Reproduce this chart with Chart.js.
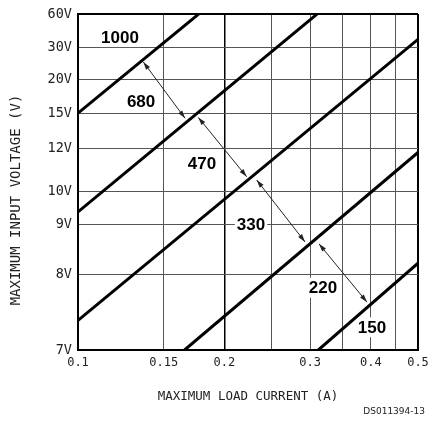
<!DOCTYPE html>
<html><head><meta charset="utf-8">
<script src="https://cdn.jsdelivr.net/npm/chart.js@4.4.1/dist/chart.umd.min.js"></script>
<style>html,body{margin:0;padding:0;background:#fff}#wrap{width:428px;height:423px;position:relative}</style>
</head><body><div id="wrap"><canvas id="c"></canvas></div>
<script>
// ---- data ----
const xTicks = [0.1, 0.15, 0.2, 0.25, 0.3, 0.35, 0.4, 0.45, 0.5];
const xTickLabels = ['0.1', '0.15', '0.2', '', '0.3', '', '0.4', '', '0.5'];
const yTicks = [7, 8, 9, 10, 12, 15, 20, 30, 60];
const yTickLabels = ['7V', '8V', '9V', '10V', '12V', '15V', '20V', '30V', '60V'];

const inductances = ['1000', '680', '470', '330', '220', '150'];
const labelCurrent = [0.122, 0.1348, 0.1798, 0.2268, 0.3189, 0.4022];
const labelVoltage = [39.5, 16.8, 11.3, 9.0, 7.82, 7.30];

const boundaryCurrent = [[0.1, 0.177], [0.1, 0.31], [0.1, 0.5], [0.1656, 0.5], [0.312, 0.5]];
const boundaryVoltage = [[15, 60], [9.38, 60], [7.39, 37.4], [7, 11.8], [7, 8.22]];

const arrowCurrent = [[0.1362, 0.1660], [0.1767, 0.2222], [0.2330, 0.2929], [0.3129, 0.3928]];
const arrowVoltage = [[25.6, 14.56], [14.64, 10.68], [10.53, 8.65], [8.61, 7.63]];

// ---- non-uniform input-voltage axis (as printed on the datasheet) ----
class InputVoltageScale extends Chart.LinearScale {
  static id = 'inputVoltage';
  static stops = [7, 8, 9, 10, 12, 15, 20, 30, 60];
  static stopFractions = [0, 0.226, 0.3735, 0.472, 0.601, 0.705, 0.804, 0.9, 1];
  toDecimal(v) {
    const s = InputVoltageScale.stops, f = InputVoltageScale.stopFractions;
    if (v <= s[0]) return f[0];
    for (let i = 0; i < s.length - 1; i++) {
      if (v <= s[i + 1]) return f[i] + (v - s[i]) / (s[i + 1] - s[i]) * (f[i + 1] - f[i]);
    }
    return 1;
  }
  fromDecimal(d) {
    const s = InputVoltageScale.stops, f = InputVoltageScale.stopFractions;
    if (d <= 0) return s[0];
    for (let i = 0; i < f.length - 1; i++) {
      if (d <= f[i + 1]) return s[i] + (d - f[i]) / (f[i + 1] - f[i]) * (s[i + 1] - s[i]);
    }
    return s[s.length - 1];
  }
  getPixelForValue(v) { return this.getPixelForDecimal(this.toDecimal(v)); }
  getValueForPixel(p) { return this.fromDecimal(this.getDecimalForPixel(p)); }
}
Chart.register(InputVoltageScale);

const datasets = [];
boundaryCurrent.forEach((xs, i) => {
  datasets.push({
    data: xs.map((xv, j) => ({ x: xv, y: boundaryVoltage[i][j] })),
    showLine: true, borderColor: '#000', borderWidth: 3, pointRadius: 0, tension: 0
  });
});
arrowCurrent.forEach((xs, i) => {
  datasets.push({
    data: xs.map((xv, j) => ({ x: xv, y: arrowVoltage[i][j] })),
    showLine: true, borderColor: '#222', borderWidth: 1, pointRadius: 0, tension: 0, isArrow: true
  });
});

const mono = '"DejaVu Sans Mono", monospace';
const lastIdx = (c) => c.scale.ticks.length - 1;

const decor = {
  id: 'decor',
  beforeDatasetsDraw(chart) {
    const { ctx, scales: { x, y } } = chart;
    ctx.save();
    ctx.font = 'bold 17px "Liberation Sans", Arial, sans-serif';
    ctx.textAlign = 'center';
    ctx.textBaseline = 'middle';
    inductances.forEach((t, i) => {
      const px = x.getPixelForValue(labelCurrent[i]);
      const py = y.getPixelForValue(labelVoltage[i]);
      const w = ctx.measureText(t).width;
      ctx.fillStyle = '#fff';
      ctx.fillRect(px - w / 2 - 2, py - 10, w + 4, 20);
      ctx.fillStyle = '#000';
      ctx.fillText(t, px, py + 1);
    });
    ctx.restore();
  },
  afterDatasetsDraw(chart) {
    const ctx = chart.ctx;
    ctx.save();
    ctx.fillStyle = '#222';
    chart.data.datasets.forEach((ds, i) => {
      if (!ds.isArrow) return;
      const pts = chart.getDatasetMeta(i).data;
      const a = pts[0], b = pts[1];
      const head = (tip, from) => {
        const ang = Math.atan2(tip.y - from.y, tip.x - from.x);
        const L = 8, W = 2.4;
        ctx.beginPath();
        ctx.moveTo(tip.x, tip.y);
        ctx.lineTo(tip.x - L * Math.cos(ang) + W * Math.sin(ang), tip.y - L * Math.sin(ang) - W * Math.cos(ang));
        ctx.lineTo(tip.x - L * Math.cos(ang) - W * Math.sin(ang), tip.y - L * Math.sin(ang) + W * Math.cos(ang));
        ctx.closePath();
        ctx.fill();
      };
      head(a, b);
      head(b, a);
    });
    ctx.restore();
  },
  afterDraw(chart) {
    const ctx = chart.ctx;
    ctx.save();
    ctx.fillStyle = '#222';
    ctx.textAlign = 'center';
    ctx.textBaseline = 'middle';
    ctx.font = '12.5px ' + mono;
    ctx.fillText('MAXIMUM LOAD CURRENT (A)', 248, 397);
    ctx.save();
    ctx.translate(16, 200);
    ctx.rotate(-Math.PI / 2);
    ctx.font = '14px ' + mono;
    ctx.fillText('MAXIMUM INPUT VOLTAGE (V)', 0, 0);
    ctx.restore();
    ctx.textAlign = 'right';
    ctx.font = '9px "DejaVu Sans", sans-serif';
    ctx.fillText('DS011394-13', 425, 412);
    ctx.restore();
  }
};

new Chart(document.getElementById('c'), {
  type: 'scatter',
  data: { datasets },
  options: {
    responsive: true,
    maintainAspectRatio: false,
    animation: false,
    events: [],
    layout: { padding: { left: 0, top: 14, right: 10, bottom: 0 } },
    plugins: { legend: { display: false }, tooltip: { enabled: false }, title: { display: false } },
    scales: {
      x: {
        type: 'logarithmic',
        min: 0.1, max: 0.5,
        afterBuildTicks: (s) => { s.ticks = xTicks.map(v => ({ value: v })); },
        afterFit: (s) => { s.height = 73; s.paddingLeft = 0; s.paddingRight = 0; },
        ticks: {
          autoSkip: false, maxRotation: 0, padding: 6, color: '#222',
          font: { family: mono, size: 12 },
          callback: (v, i) => xTickLabels[i]
        },
        grid: {
          drawTicks: false,
          color: (c) => (c.index === lastIdx(c) || c.tick.value === 0.2 ? '#000' : '#555'),
          lineWidth: (c) => (c.index === lastIdx(c) ? 2 : (c.tick.value === 0.2 ? 1.5 : 1))
        },
        border: { display: true, color: '#000', width: 2 }
      },
      y: {
        type: 'inputVoltage',
        min: 7, max: 60,
        afterBuildTicks: (s) => { s.ticks = yTicks.map(v => ({ value: v })); },
        afterFit: (s) => { s.width = 78; },
        ticks: {
          autoSkip: false, padding: 6, color: '#222',
          font: { family: mono, size: 13.5 },
          callback: (v, i) => yTickLabels[i]
        },
        grid: {
          drawTicks: false,
          color: (c) => (c.index === lastIdx(c) ? '#000' : '#555'),
          lineWidth: (c) => (c.index === lastIdx(c) ? 2 : 1)
        },
        border: { display: true, color: '#000', width: 2 }
      }
    }
  },
  plugins: [decor]
});
</script>
</body></html>
